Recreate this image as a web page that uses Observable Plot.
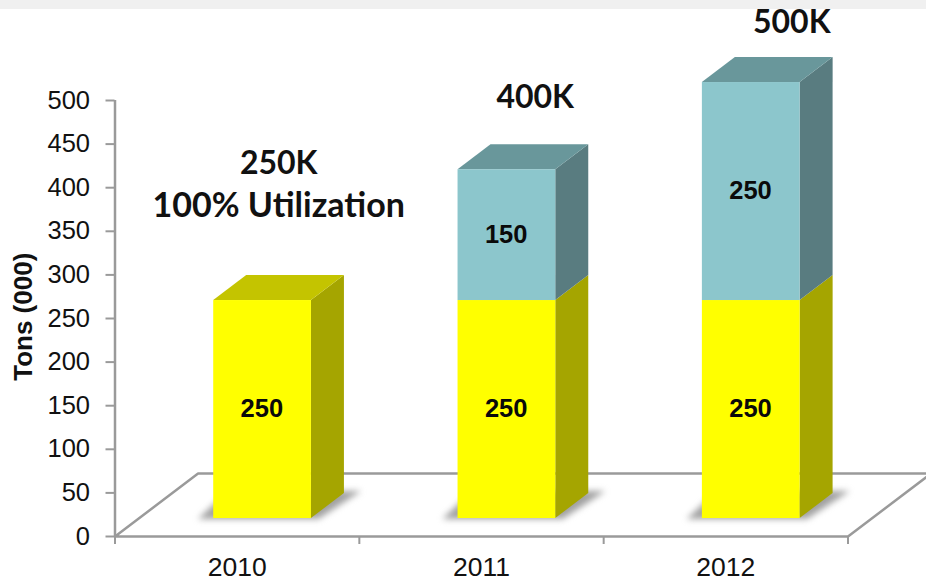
<!DOCTYPE html>
<html>
<head>
<meta charset="utf-8">
<script src="https://cdn.jsdelivr.net/npm/d3@7"></script>
<script src="https://cdn.jsdelivr.net/npm/@observablehq/plot@0.6"></script>
<style>
html,body{margin:0;padding:0;background:#fff;overflow:hidden}
#band{position:absolute;left:0;top:0;width:926px;height:9px;background:#f0f0f0}
#chart{position:absolute;left:0;top:0}
svg{display:block}
</style>
</head>
<body>
<div id="chart"></div>
<div id="band"></div>
<script>
const years = ["2010", "2011", "2012"];
const baseTons = [250, 250, 250];
const addedTons = [0, 150, 250];
const yTicks = [0, 50, 100, 150, 200, 250, 300, 350, 400, 450, 500];
const noteTexts = ["250K", "100% Utilization", "400K", "500K"];
const noteX = [0.67, 0.67, 1.72, 2.77];
const noteY = [428, 379, 503, 589];
const noteSize = [32, 34, 32, 32];

// 3D projection, in chart units
const barLeft = 0.404, barWidth = 0.4, barFloor = 20.6;
const depthX = 0.135, depthY = 28.7;
const floorX = 0.34, floorY = 72.2;
const yellow = ["#ffff00", "#a5a500", "#c4c400"];
const teal = ["#8cc6cc", "#597c80", "#69979b"];

const faces = [], fronts = [], values = [], shadows = [];
function addFaces(i, lo, hi, colors, top) {
  const l = i + barLeft, r = l + barWidth, id = `${i}-${lo}`;
  fronts.push({x1: l, x2: r, y1: barFloor + lo, y2: barFloor + hi, fill: colors[0]});
  faces.push(
    {id: id + "s", fill: colors[1], x1: r, x2: r, y1: barFloor + lo, y2: barFloor + hi},
    {id: id + "s", fill: colors[1], x1: r + depthX, x2: r + depthX, y1: barFloor + lo + depthY, y2: barFloor + hi + depthY}
  );
  if (top) faces.push(
    {id: id + "t", fill: colors[2], x1: l, x2: r, y1: barFloor + hi, y2: barFloor + hi},
    {id: id + "t", fill: colors[2], x1: l + depthX, x2: r + depthX, y1: barFloor + hi + depthY, y2: barFloor + hi + depthY}
  );
  values.push({x: (l + r) / 2 - 0.003, y: barFloor + (lo + hi) / 2 + 0.3, t: String(hi - lo)});
}
years.forEach((y, i) => {
  addFaces(i, 0, baseTons[i], yellow, addedTons[i] === 0);
  if (addedTons[i]) addFaces(i, baseTons[i], baseTons[i] + addedTons[i], teal, true);
  const l = i + barLeft, r = l + barWidth;
  shadows.push(
    {id: i, x1: l - 0.062, x2: r + 0.03, y: barFloor - 1},
    {id: i, x1: l + 0.06, x2: r + 0.205, y: barFloor + 31}
  );
});

const grey = "#9a9a9a";
const chart = Plot.plot({
  width: 926, height: 582,
  marginLeft: 114.5, marginRight: 78.5, marginTop: 100, marginBottom: 46,
  style: {fontFamily: "'Liberation Sans', Arial, sans-serif", background: "transparent", overflow: "hidden"},
  x: {domain: [0, 3]},
  y: {domain: [0, 500]},
  color: {type: "identity"},
  marks: [
    // floor
    Plot.line([[0, 0], [floorX, floorY], [3 + floorX, floorY], [3, 0], [0, 0]], {stroke: grey, strokeWidth: 2.5}),
    Plot.ruleX([0], {y1: 0, y2: 500, stroke: grey, strokeWidth: 2.5}),
    Plot.axisY({ticks: yTicks, tickSize: 9, tickPadding: 16, fontSize: 25.5, stroke: grey, strokeWidth: 2, fill: "#111", label: null}),
    Plot.axisX({ticks: [0, 1, 2, 3], tickSize: 8, tickFormat: () => "", stroke: grey, strokeWidth: 2, label: null}),
    Plot.text(years, {x: (d, i) => i + 0.5, y: 0, dy: 31, text: d => d, fontSize: 26.5, fill: "#111"}),
    // shadows
    Plot.area(shadows, {x1: "x1", x2: "x2", y1: "y", y2: "y", z: "id", fill: "#8a8a8a", opacity: 0.8, imageFilter: "blur(3px)"}),
    // bars
    Plot.area(faces, {x1: "x1", x2: "x2", y1: "y1", y2: "y2", z: "id", fill: "fill"}),
    Plot.rect(fronts, {x1: "x1", x2: "x2", y1: "y1", y2: "y2", fill: "fill"}),
    Plot.text(values, {x: "x", y: "y", text: "t", fontSize: 25.5, fontWeight: "bold", fill: "#0a0a0a"}),
    // notes
    Plot.text(noteTexts, {x: (d, i) => noteX[i], y: (d, i) => noteY[i], text: d => d, fontSize: (d, i) => noteSize[i], fontWeight: "bold",
      fontFamily: "Lato, 'Open Sans', sans-serif", fill: "#111"}),
    Plot.text(["Tons (000)"], {x: -0.372, y: 252, text: d => d, rotate: -90, fontSize: 26, fontWeight: "bold", fill: "#111"})
  ]
});
document.getElementById("chart").appendChild(chart);
</script>
</body>
</html>
